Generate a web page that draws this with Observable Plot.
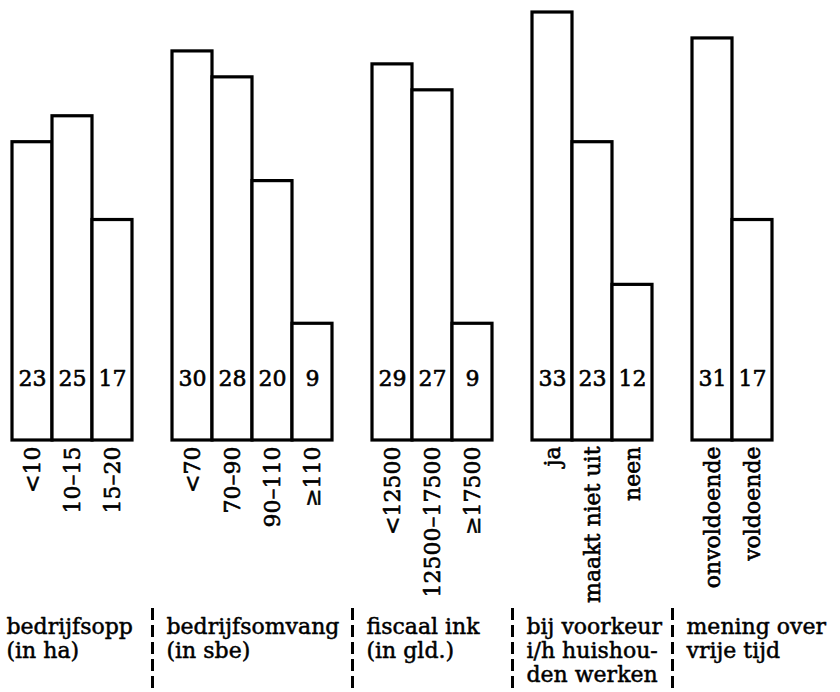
<!DOCTYPE html>
<html>
<head>
<meta charset="utf-8">
<script src="https://cdn.jsdelivr.net/npm/d3@7"></script>
<script src="https://cdn.jsdelivr.net/npm/@observablehq/plot@0.6"></script>
<style>
html, body { margin: 0; padding: 0; background: #fff; }
#chart { width: 840px; height: 692px; }
</style>
</head>
<body>
<div id="chart"></div>
<script>
// ---- data ----
const oppLabels = ["<10", "10–15", "15–20"];
const oppValues = [23, 25, 17];
const omvangLabels = ["<70", "70–90", "90–110", "≥110"];
const omvangValues = [30, 28, 20, 9];
const inkLabels = ["<12500", "12500–17500", "≥17500"];
const inkValues = [29, 27, 9];
const voorkeurLabels = ["ja", "maakt niet uit", "neen"];
const voorkeurValues = [33, 23, 12];
const vrijeTijdLabels = ["onvoldoende", "voldoende"];
const vrijeTijdValues = [31, 17];
const groupTitles = [
  "bedrijfsopp\n(in ha)",
  "bedrijfsomvang\n(in sbe)",
  "fiscaal ink\n(in gld.)",
  "bij voorkeur\ni/h huishou-\nden werken",
  "mening over\nvrije tijd"
];

// ---- build table for the library ----
const groups = [
  [oppLabels, oppValues],
  [omvangLabels, omvangValues],
  [inkLabels, inkValues],
  [voorkeurLabels, voorkeurValues],
  [vrijeTijdLabels, vrijeTijdValues]
];
const bars = [];
const xDomain = [];
const spacers = [];
const heads = [];
groups.forEach(([labs, vals], g) => {
  if (g > 0) { const s = "\u200bgap" + g; xDomain.push(s); spacers.push(s); }
  labs.forEach((l, i) => { xDomain.push(l); bars.push({group: g, label: l, value: vals[i]}); });
  heads.push({key: labs[0], title: groupTitles[g]});
});

const FONT = "DejaVu Serif";
const inkStyle = {fontFamily: FONT, fill: "black", stroke: "black", strokeWidth: 0.6};
const chart = Plot.plot({
  width: 840,
  height: 692,
  marginTop: 12,
  marginBottom: 252,
  marginLeft: 10,
  marginRight: 66,
  style: {fontFamily: FONT, fontSize: "22px", background: "white", color: "black"},
  x: {domain: xDomain, padding: 0, axis: null},
  y: {domain: [0, 33], axis: null},
  marks: [
    Plot.barY(bars, {x: "label", y: "value", fill: "white", stroke: "black", strokeWidth: 3.2}),
    Plot.text(bars, {x: "label", y: 0, text: d => String(d.value), dy: -62, fontSize: 22, ...inkStyle}),
    Plot.text(bars, {x: "label", y: 0, text: "label", rotate: -90, textAnchor: "end", lineAnchor: "middle", dy: 6, fontSize: 22, ...inkStyle}),
    Plot.ruleX(spacers, {x: d => d, insetTop: 596, insetBottom: -252, stroke: "black", strokeWidth: 3, strokeDasharray: "12,5"}),
    Plot.text(heads, {x: "key", y: 0, text: "title", textAnchor: "start", lineAnchor: "top", dx: -26, dy: 176, lineHeight: 1.1, fontSize: 22, ...inkStyle, strokeWidth: 0.5})
  ]
});
document.getElementById("chart").appendChild(chart);
</script>
</body>
</html>
